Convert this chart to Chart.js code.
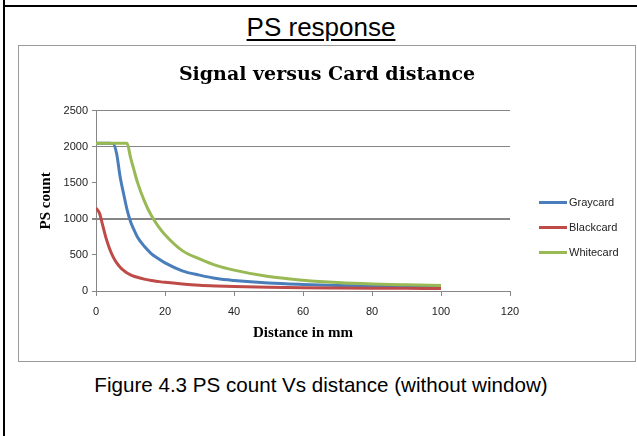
<!DOCTYPE html>
<html lang="en">
<head>
  <meta charset="UTF-8">
  <title>PS response</title>
  <script src="https://cdn.jsdelivr.net/npm/chart.js"></script>
  <style>
    body {
      margin: 0;
      width: 637px;
      height: 436px;
      position: relative;
      overflow: hidden;
      background: #fff;
      font-family: "Liberation Sans", Arial, sans-serif;
    }
    .rule-top { position: absolute; left: 3px; top: 5px; width: 634px; height: 2px; background: #000; }
    .rule-left { position: absolute; left: 3px; top: 0; width: 2px; height: 436px; background: #000; }
    .heading {
      position: absolute; left: 5px; width: 632px; top: 14px;
      text-align: center; font-size: 26px; line-height: 26px;
      text-decoration: underline; text-underline-offset: 3px;
    }
    .chart-box {
      position: absolute; left: 18px; top: 45px;
      width: 616px; height: 315px;
      border: 1px solid #9a9a9a;
    }
    #legend { position: absolute; left: 539px; top: 195px; }
    .legend-item {
      display: flex; align-items: center;
      height: 14px; margin-bottom: 11px;
      font-size: 11px; color: #222;
    }
    .swatch { display: inline-block; width: 28px; height: 3px; margin-right: 2px; }
    .caption {
      position: absolute; left: 5px; width: 632px; top: 375px;
      text-align: center; font-size: 20.6px; line-height: 20px;
    }
  </style>
</head>
<body>
  <div class="rule-top"></div>
  <div class="rule-left"></div>
  <div class="heading">PS response</div>

  <div class="chart-box">
    <canvas id="psChart" width="616" height="315"></canvas>
  </div>
  <div id="legend"></div>

  <div class="caption">Figure 4.3 PS count Vs distance (without window)</div>

  <script>
    // distance in mm and PS counts
    const distance = [0, 1, 2, 3, 4, 5, 6, 7, 8, 9, 10, 11, 12, 14, 16, 18, 20, 25, 30, 35, 40, 50, 60, 70, 80, 90, 100];
    const grayCard = [2050, 2050, 2050, 2050, 2050, 2045, 1900, 1580, 1350, 1130, 965, 850, 750, 620, 520, 450, 390, 280, 220, 172, 145, 110, 91, 78, 68, 62, 58];
    const blackCard = [1150, 1080, 900, 720, 580, 470, 390, 330, 285, 250, 225, 205, 190, 165, 145, 132, 120, 97, 80, 70, 63, 53, 46, 42, 39, 37, 35];
    const whiteCard = [2050, 2050, 2050, 2050, 2050, 2050, 2050, 2050, 2050, 2050, 1855, 1680, 1510, 1250, 1050, 900, 780, 560, 445, 352, 290, 200, 150, 117, 97, 86, 78];

    const seriesNames = ['Graycard', 'Blackcard', 'Whitecard'];
    const seriesColors = ['#4a7ebb', '#be4b48', '#98b954'];
    const xTicks = [0, 20, 40, 60, 80, 100, 120];
    const yTicks = [0, 500, 1000, 1500, 2000, 2500];
    const yGridShown = [1000, 2000, 2500];

    const axisGray = '#868686';
    const tickFont = { family: '"Liberation Sans", Arial, sans-serif', size: 11 };
    const axisTitleFont = { family: '"Liberation Serif", serif', size: 15, weight: 'bold' };

    function toPoints(values) {
      return distance.map((d, i) => ({ x: d, y: values[i] }));
    }

    const allSeries = [grayCard, blackCard, whiteCard];
    const datasets = allSeries.map((values, i) => ({
      label: seriesNames[i],
      data: toPoints(values),
      borderColor: seriesColors[i],
      backgroundColor: seriesColors[i],
      borderWidth: 3,
      pointRadius: 0,
      cubicInterpolationMode: 'monotone',
      order: allSeries.length - i
    }));

    // legend sits in the right-hand column, outside the canvas drawing
    const legend = document.getElementById('legend');
    seriesNames.forEach((name, i) => {
      const item = document.createElement('div');
      item.className = 'legend-item';
      item.innerHTML = '<span class="swatch" style="background:' + seriesColors[i] + '"></span>' + name;
      legend.appendChild(item);
    });

    const ctx = document.getElementById('psChart').getContext('2d');
    new Chart(ctx, {
      type: 'line',
      data: { datasets: datasets },
      options: {
        responsive: false,
        animation: false,
        plugins: {
          legend: { display: false },
          tooltip: { enabled: false },
          title: {
            display: true,
            text: 'Signal versus Card distance',
            color: '#000',
            font: { family: '"DejaVu Serif", serif', size: 19, weight: 'bold' },
            padding: { top: 18, bottom: 24 }
          }
        },
        scales: {
          x: {
            type: 'linear',
            min: 0,
            max: 120,
            afterBuildTicks: s => { s.ticks = xTicks.map(v => ({ value: v })); },
            afterFit: s => { s.height = 70; },
            grid: { drawOnChartArea: false, tickLength: 5, tickColor: axisGray },
            border: { color: axisGray, width: 1 },
            ticks: { color: '#222', padding: 9, maxRotation: 0, font: tickFont, callback: v => String(v) },
            title: {
              display: true,
              text: 'Distance in mm',
              color: '#000',
              font: axisTitleFont,
              padding: { top: 4, bottom: 19 }
            }
          },
          y: {
            min: 0,
            max: 2500,
            afterBuildTicks: s => { s.ticks = yTicks.map(v => ({ value: v })); },
            afterFit: s => { s.width = 77; },
            grid: {
              tickLength: 4,
              tickColor: axisGray,
              color: c => (c.tick && yGridShown.includes(c.tick.value)) ? axisGray : 'rgba(0,0,0,0)',
              lineWidth: c => (c.tick && c.tick.value === 1000) ? 2 : 1
            },
            border: { color: axisGray, width: 1 },
            ticks: { color: '#222', padding: 4, font: tickFont, callback: v => String(v) },
            title: {
              display: true,
              text: 'PS count',
              color: '#000',
              font: axisTitleFont,
              padding: { top: 18, bottom: 4 }
            }
          },
          // empty scale on the right keeps room for the legend column
          legendSpace: {
            type: 'linear',
            position: 'right',
            grid: { display: false },
            border: { display: false },
            ticks: { display: false },
            afterFit: s => { s.width = 125; }
          }
        }
      }
    });
  </script>
</body>
</html>
